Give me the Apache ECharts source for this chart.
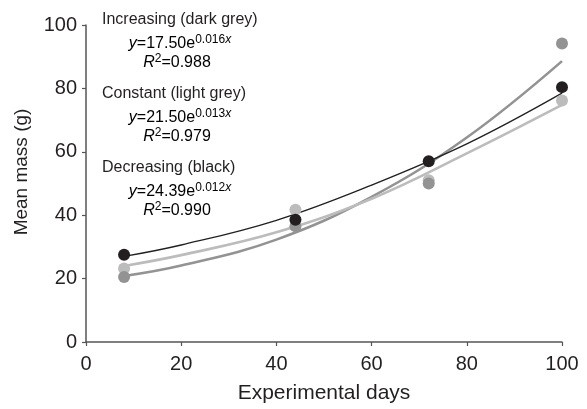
<!DOCTYPE html>
<html>
<head>
<meta charset="utf-8">
<script src="https://cdn.jsdelivr.net/npm/echarts@6/dist/echarts.min.js"></script>
<style>
  html, body { margin: 0; padding: 0; background: #fff; }
  #main { width: 587px; height: 409px; }
</style>
</head>
<body>
<div id="main"></div>
<script>
// sampling days and mean masses (g)
const days = [8, 44, 72, 100];
const increasingMass = [20.5, 36.5, 50, 94.2];  // dark grey
const constantMass = [23.2, 41.7, 51, 76.2];    // light grey
const decreasingMass = [27.5, 38.6, 57, 80.4];  // black

// fitted curves
const curveDays = [8, 20, 40, 60, 80, 100];
const increasingCurve = [20.8, 24.1, 32.3, 45.8, 64.5, 88.6];
const constantCurve = [24.0, 27.4, 34.6, 45.2, 59.5, 74.8];
const decreasingCurve = [27.0, 30.6, 38.4, 49.5, 62.5, 78.5];

const xTicks = [0, 20, 40, 60, 80, 100];
const yTicks = [0, 20, 40, 60, 80, 100];

const fitLabels = [
  { head: 'Increasing (dark grey)', a: '17.50', b: '0.016', r2: '0.988' },
  { head: 'Constant (light grey)', a: '21.50', b: '0.013', r2: '0.979' },
  { head: 'Decreasing (black)', a: '24.39', b: '0.012', r2: '0.990' }
];

const DARK = '#939393';
const LIGHT = '#bcbcbc';
const BLACK = '#231f20';
const FONT = '"Liberation Sans", Arial, Helvetica, sans-serif';

const chart = echarts.init(document.getElementById('main'), null, { renderer: 'canvas' });

const pairs = (xs, ys) => xs.map((x, i) => [x, ys[i]]);

const rich = {
  n: { fontSize: 16, lineHeight: 20, fontFamily: FONT, color: BLACK },
  i: { fontSize: 16, lineHeight: 20, fontFamily: FONT, color: BLACK, fontStyle: 'italic' },
  s: { fontSize: 12, lineHeight: 14, fontFamily: FONT, color: BLACK, verticalAlign: 'top' },
  si: { fontSize: 12, lineHeight: 14, fontFamily: FONT, color: BLACK, verticalAlign: 'top', fontStyle: 'italic' }
};

// annotation text blocks
const graphics = [];
fitLabels.forEach((f, k) => {
  const top = 20 + k * 74;
  graphics.push({
    type: 'text', x: 102, y: top,
    style: { text: f.head, font: '16px ' + FONT, fill: BLACK, textAlign: 'left', textVerticalAlign: 'middle' }
  });
  graphics.push({
    type: 'text', x: 180, y: top + 24,
    style: {
      text: '{i|y}{n|=' + f.a + 'e}{s|' + f.b + '}{si|x}',
      rich: rich, textAlign: 'center', textVerticalAlign: 'middle'
    }
  });
  graphics.push({
    type: 'text', x: 177, y: top + 43,
    style: {
      text: '{i|R}{s|2}{n|=' + f.r2 + '}',
      rich: rich, textAlign: 'center', textVerticalAlign: 'middle'
    }
  });
});
graphics.push({
  type: 'text', x: 22, y: 172, rotation: Math.PI / 2,
  style: { text: 'Mean mass (g)', font: '19px ' + FONT, fill: BLACK, textAlign: 'center', textVerticalAlign: 'middle' }
});

const axisCommon = {
  type: 'value',
  min: 0,
  max: 100,
  interval: 20,
  splitLine: { show: false },
  axisLine: { show: true, lineStyle: { color: '#555', width: 1.5 } },
  axisTick: { show: true, length: 4, lineStyle: { color: '#555', width: 1.2 } }
};

const option = {
  backgroundColor: '#fff',
  animation: false,
  grid: { left: 86, right: 25, top: 25, bottom: 62 },
  xAxis: Object.assign({}, axisCommon, {
    name: 'Experimental days',
    nameLocation: 'middle',
    nameGap: 41,
    nameTextStyle: { fontSize: 21, color: BLACK, fontFamily: FONT },
    axisLabel: {
      fontSize: 20, color: BLACK, fontFamily: FONT, margin: 12,
      formatter: v => (xTicks.includes(v) ? String(v) : '')
    }
  }),
  yAxis: Object.assign({}, axisCommon, {
    axisLabel: {
      fontSize: 20, color: BLACK, fontFamily: FONT, margin: 9,
      formatter: v => (yTicks.includes(v) ? String(v) : '')
    }
  }),
  graphic: graphics,
  series: [
    {
      name: 'Increasing fit', type: 'line', smooth: 0.4, showSymbol: false,
      data: pairs(curveDays, increasingCurve),
      lineStyle: { color: DARK, width: 2.6 }, z: 2
    },
    {
      name: 'Constant fit', type: 'line', smooth: 0.4, showSymbol: false,
      data: pairs(curveDays, constantCurve),
      lineStyle: { color: LIGHT, width: 2.6 }, z: 2
    },
    {
      name: 'Decreasing fit', type: 'line', smooth: 0.4, showSymbol: false,
      data: pairs(curveDays, decreasingCurve),
      lineStyle: { color: BLACK, width: 1.3 }, z: 2
    },
    {
      name: 'Constant', type: 'scatter', symbolSize: 12,
      data: pairs(days, constantMass),
      itemStyle: { color: LIGHT, opacity: 1 }, z: 3
    },
    {
      name: 'Increasing', type: 'scatter', symbolSize: 12,
      data: pairs(days, increasingMass),
      itemStyle: { color: DARK, opacity: 1 }, z: 3
    },
    {
      name: 'Decreasing', type: 'scatter', symbolSize: 12,
      data: pairs(days, decreasingMass),
      itemStyle: { color: BLACK, opacity: 1 }, z: 4
    }
  ]
};

chart.setOption(option);
window.onresize = () => chart.resize();
</script>
</body>
</html>
